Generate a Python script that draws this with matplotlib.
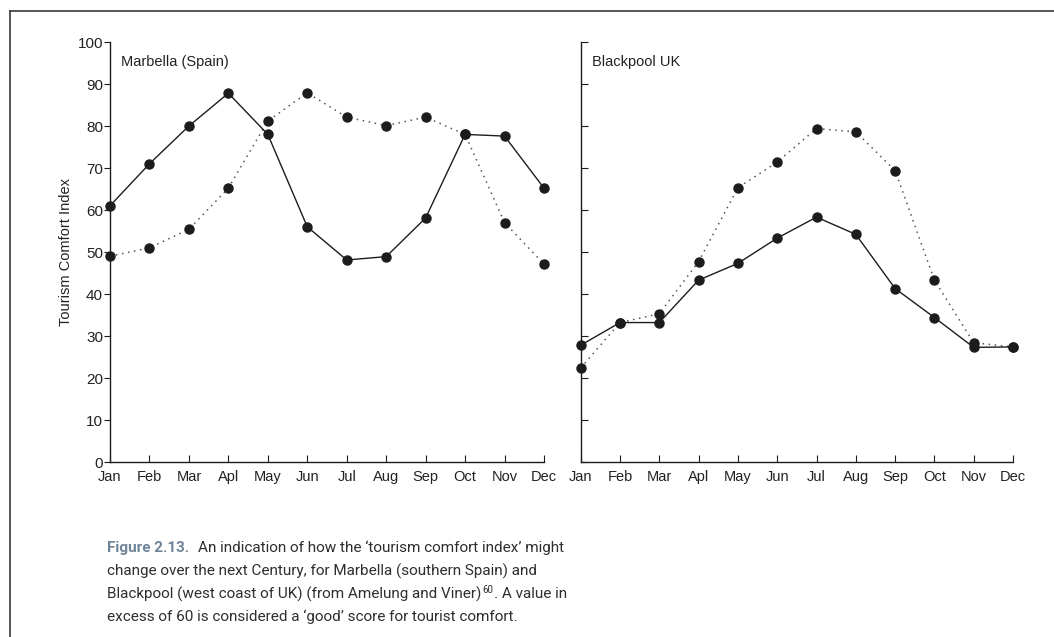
import matplotlib
matplotlib.use("Agg")
import matplotlib.pyplot as plt
from matplotlib.lines import Line2D

months = ["Jan", "Feb", "Mar", "Apl", "May", "Jun", "Jul", "Aug", "Sep", "Oct", "Nov", "Dec"]
yticks = [0, 10, 20, 30, 40, 50, 60, 70, 80, 90, 100]

marbella_solid = [61, 71, 80, 87.8, 78, 56, 48.1, 48.9, 58.1, 78, 77.6, 65.2]
marbella_dotted = [49, 51, 55.4, 65.2, 81.2, 87.9, 82.1, 80.1, 82.1, 78, 57, 47.1]
blackpool_solid = [27.8, 33.2, 33.2, 43.3, 47.3, 53.3, 58.3, 54.2, 41.3, 34.4, 27.3, 27.4]
blackpool_dotted = [22.4, 33.2, 35.3, 47.7, 65.3, 71.4, 79.4, 78.6, 69.4, 43.3, 28.4, 27.4]

panel_titles = ["Marbella (Spain)", "Blackpool UK"]
ylabel = "Tourism Comfort Index"
caption_head = "Figure 2.13."
caption_line1 = "An indication of how the \u2018tourism comfort index\u2019 might"
caption_line2 = "change over the next Century, for Marbella (southern Spain) and"
caption_line3a = "Blackpool (west coast of UK) (from Amelung and Viner)"
caption_sup = "60"
caption_line3b = ". A value in"
caption_line4 = "excess of 60 is considered a \u2018good\u2019 score for tourist comfort."

plt.rcParams["font.family"] = ["Liberation Sans", "DejaVu Sans"]

W, H = 1054, 637
fig = plt.figure(figsize=(W / 100, H / 100), dpi=100)

ink = "#1c1c1c"
x = list(range(len(months)))

def make_axes(left_px, right_px, title, with_labels):
    bottom_px, top_px = 462, 42
    ax = fig.add_axes([left_px / W, (H - bottom_px) / H,
                       (right_px - left_px) / W, (bottom_px - top_px) / H])
    ax.set_xlim(0, 11)
    ax.set_ylim(0, 100)
    for s in ["top", "right"]:
        ax.spines[s].set_visible(False)
    for s in ["left", "bottom"]:
        ax.spines[s].set_color(ink)
        ax.spines[s].set_linewidth(1.0)
    ax.set_xticks(x)
    ax.set_xticklabels(months, fontsize=10.5, color="#222222")
    ax.set_yticks(yticks)
    ax.tick_params(axis="x", direction="in", length=5, width=0.8, color=ink, pad=6)
    if with_labels:
        ax.tick_params(axis="y", direction="out", length=4, width=0.8, color=ink,
                       labelsize=11, labelcolor="#222222", pad=1)
    else:
        ax.tick_params(axis="y", direction="in", length=5, width=0.8, color=ink,
                       labelleft=False)
    ax.text(0.025, 0.97, title, transform=ax.transAxes, fontsize=10.5,
            color="#222222", va="top", ha="left")
    ax.patch.set_alpha(0)
    return ax

axL = make_axes(110, 544, panel_titles[0], True)
axR = make_axes(580.7, 1013, panel_titles[1], False)
axL.set_ylabel(ylabel, fontsize=10.5, color="#222222", labelpad=3)

for ax, solid, dotted in [(axL, marbella_solid, marbella_dotted),
                          (axR, blackpool_solid, blackpool_dotted)]:
    ax.plot(x, dotted, linestyle=(0, (1, 3)), color="#555555", linewidth=1.1,
            marker="o", markersize=6.5, markerfacecolor=ink, markeredgecolor=ink,
            clip_on=False, zorder=3)
    ax.plot(x, solid, linestyle="-", color=ink, linewidth=1.0,
            marker="o", markersize=6.5, markerfacecolor=ink, markeredgecolor=ink,
            clip_on=False, zorder=4)

# frame lines (top and left)
fig.add_artist(Line2D([10 / W, 10 / W], [0, 1 - 11 / H], transform=fig.transFigure,
                      color="#3a3a3a", linewidth=1.2))
fig.add_artist(Line2D([10 / W, 1], [1 - 11 / H, 1 - 11 / H], transform=fig.transFigure,
                      color="#3a3a3a", linewidth=1.2))

# caption
cap_font = "Roboto"
cap_size = 11
cap_col = "#2e2e2e"
x0 = 107
def ypos(i):
    return 1 - (548 + 23 * i) / H

head = fig.text(x0 / W, ypos(0), caption_head, fontsize=cap_size, family=cap_font,
                fontweight="bold", color="#6f8498", va="center", ha="left")
fig.canvas.draw()
bb = head.get_window_extent()
fig.text((bb.x1 + 9) / W, ypos(0), caption_line1, fontsize=cap_size,
         family=cap_font, color=cap_col, va="center", ha="left")
fig.text(x0 / W, ypos(1), caption_line2, fontsize=cap_size,
         family=cap_font, color=cap_col, va="center", ha="left")
t3a = fig.text(x0 / W, ypos(2), caption_line3a, fontsize=cap_size,
               family=cap_font, color=cap_col, va="center", ha="left")
fig.canvas.draw()
b3 = t3a.get_window_extent()
ts = fig.text((b3.x1 + 1) / W, ypos(2) + 4 / H, caption_sup, fontsize=cap_size * 0.65,
              family=cap_font, color=cap_col, va="center", ha="left")
fig.canvas.draw()
bs = ts.get_window_extent()
fig.text((bs.x1 + 0.5) / W, ypos(2), caption_line3b, fontsize=cap_size,
         family=cap_font, color=cap_col, va="center", ha="left")
fig.text(x0 / W, ypos(3), caption_line4, fontsize=cap_size,
         family=cap_font, color=cap_col, va="center", ha="left")

fig.savefig("out.png", dpi=100)
